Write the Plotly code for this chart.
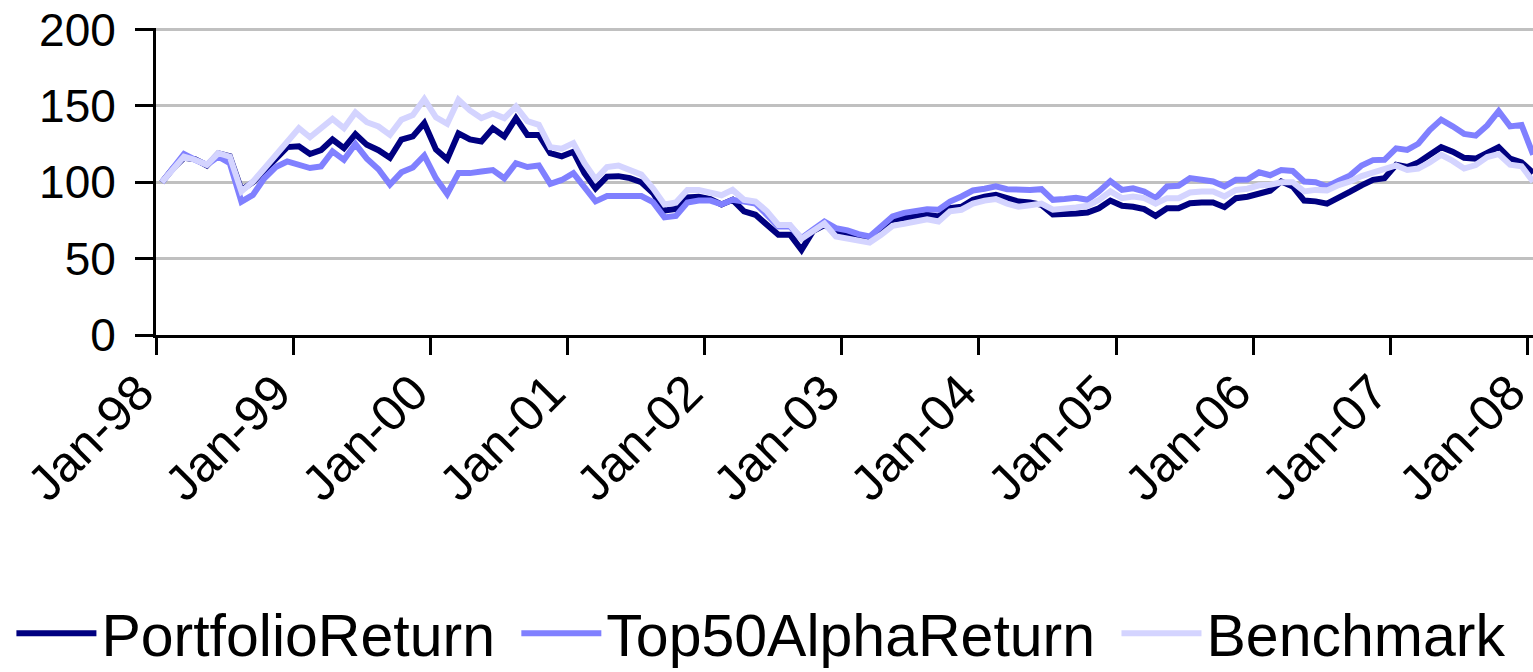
import pandas as pd
import plotly.graph_objects as go

# Monthly index levels, Jan-98 .. Jan-08 (base 100)
months = pd.date_range("1998-01-01", periods=121, freq="MS")

portfolio_return = [
    100, 109, 116, 115, 111, 119, 117, 95, 100, 108, 115, 123,
    123.5, 118.5, 121, 128, 122.3, 131.5, 124.5, 121, 116, 128, 130, 138.7,
    121.5, 115, 132, 128, 126.7, 135.4, 130, 142, 131, 131, 119, 117,
    120, 106, 96, 103.7, 104, 102.7, 100, 93, 81.5, 82.5, 90, 90.5,
    89, 85.5, 88.5, 81, 78.7, 72, 65.6, 65.6, 55.7, 68, 72, 68,
    65.8, 64, 62, 68, 75.4, 76.5, 77.5, 78.7, 77.6, 83, 84, 88.5,
    90.5, 91.8, 89.6, 87.4, 86.8, 85.2, 79, 79, 79.5, 80.2, 83, 88,
    84.6, 84, 82.4, 78, 83, 83, 86.3, 86.8, 86.8, 83.7, 89.6, 90.5,
    93, 94.5, 100.5, 97.3, 88, 87.5, 86, 90.5, 93.8, 98, 101.6, 102.6,
    111.5, 110, 113, 118, 123, 120, 116, 115.5, 119.5, 123, 115.5, 113,
    106,
]

top50_alpha_return = [
    100, 110, 118.5, 114.6, 111.4, 116.8, 112.5, 87.3, 91.7, 102.6, 110, 113.6,
    111.5, 109.3, 110.4, 120.2, 114.7, 125, 115.5, 108.5, 98.5, 106.5, 109.7, 117.5,
    102.6, 92.3, 106, 106, 107, 108, 102.6, 112.5, 110, 111, 99, 101.5,
    106, 97, 87.5, 91, 91, 90.7, 91, 87, 77, 78, 86.7, 88,
    88, 85.5, 88.5, 87.4, 86, 78.7, 71, 71, 63.4, 69, 74.3, 70,
    68.5, 66, 64.5, 71, 77.6, 80, 81, 82.4, 82, 87.4, 90.7, 94.6,
    95.8, 97.3, 95.5, 95, 95, 95.5, 88.5, 89, 89.8, 88.5, 94, 100.8,
    95, 96, 94, 89.6, 97.3, 97.7, 102.7, 101.6, 100.5, 97.3, 101.6, 101.8,
    106.5, 104.6, 108, 107.4, 100.5, 100, 97.2, 101, 104.5, 111, 114.5, 114.7,
    122.2, 121.2, 125.2, 134.2, 141, 136.6, 131.7, 130.5, 137.2, 146.5, 136.6, 137.5,
    118,
]

benchmark = [
    100, 109, 116.8, 114.6, 111.4, 119, 116.8, 94, 100.4, 109, 118, 126.7,
    135.4, 129.5, 136, 141.5, 135.4, 145.7, 139.3, 136.5, 131, 141, 144, 154.5,
    142.5, 138.3, 154, 147, 142, 145, 142, 149.6, 140, 137.6, 123, 122,
    125.6, 112.5, 102, 110, 111, 108.5, 105, 96, 85.5, 86.7, 95, 95,
    93.5, 91.5, 95, 88.5, 87.4, 81, 72, 72, 63, 68, 73, 64.5,
    63, 61, 60.5, 65.6, 71.5, 72.8, 74.3, 75.8, 74.3, 81, 82, 86,
    88, 89, 86, 84, 85, 86, 82, 82.4, 83.5, 84.6, 88.5, 94,
    89.6, 90.7, 89.6, 86, 89.6, 89.6, 93.3, 94, 94, 90.7, 95, 95.8,
    98, 98.4, 100, 100, 94, 95, 94.7, 98.2, 100.5, 104, 106.2, 108,
    111, 108, 109, 113, 118, 114, 109, 111.3, 116.5, 118.5, 111.5, 110.5,
    100.4,
]

series = [
    ("PortfolioReturn", portfolio_return, "#000080"),
    ("Top50AlphaReturn", top50_alpha_return, "#8080FF"),
    ("Benchmark", benchmark, "#D4D4FF"),
]

FONT = "Liberation Sans, Arial, sans-serif"
NBSP = "\u00a0"  # widens the gap between horizontal legend entries

fig = go.Figure()
for i, (name, values, color) in enumerate(series):
    label = name + (NBSP if i < len(series) - 1 else "")
    fig.add_trace(go.Scatter(
        x=months, y=values, name=label, mode="lines",
        xperiod="M1", xperiodalignment="middle",
        line=dict(color=color, width=6),
    ))

fig.update_layout(
    width=1533, height=672,
    margin=dict(l=156, r=0, t=28, b=337, autoexpand=False),
    plot_bgcolor="white", paper_bgcolor="white",
    font=dict(family=FONT, color="black", size=46),
    showlegend=True,
    legend=dict(
        orientation="h", x=-0.105, xanchor="left", y=-0.972, yanchor="middle",
        font=dict(family=FONT, size=59, color="black"),
        itemwidth=80, bgcolor="rgba(0,0,0,0)",
    ),
    xaxis=dict(
        type="date",
        range=["1998-01-01", "2008-01-16"],
        tick0="1998-01-01", dtick="M12", tickformat="%b-%y",
        tickangle=-45,
        showgrid=False, zeroline=False,
        showline=True, linecolor="black", linewidth=3,
        ticks="outside", ticklen=17, tickwidth=3, tickcolor="black",
        ticklabelstandoff=-12, ticklabelshift=-17,
        ticklabeloverflow="allow",
        tickfont=dict(family=FONT, size=50),
    ),
    yaxis=dict(
        range=[0, 201], tick0=0, dtick=50,
        showgrid=True, gridcolor="#C0C0C0", gridwidth=3,
        zeroline=False,
        showline=True, linecolor="black", linewidth=3,
        ticks="outside", ticklen=18, tickwidth=3, tickcolor="black",
        ticklabelstandoff=10,
        tickfont=dict(family=FONT, size=46),
    ),
)

fig.write_html("out.html")
